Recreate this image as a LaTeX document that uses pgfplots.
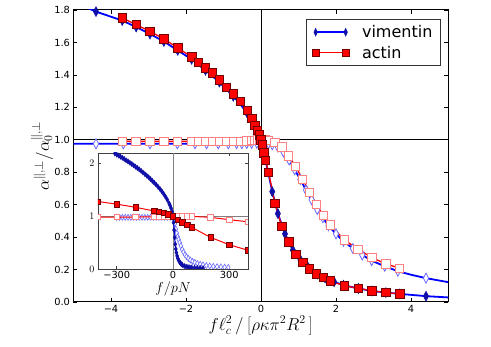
\documentclass[border=0pt]{standalone}
\usepackage[no-math]{fontspec}
\setmainfont{DejaVu Sans}
\usepackage{pgfplots}
\pgfplotsset{compat=1.18}
\definecolor{vimdark}{HTML}{1010A8}
\definecolor{vimlight}{HTML}{6A6AFF}
\definecolor{actlight}{HTML}{FF8080}

\pgfplotsset{
  vimpar/.style={blue, line width=1.8pt, mark=diamond*,
    mark options={fill=vimdark, draw=vimdark, line width=0.5pt, xscale=0.7, solid}, mark size=5pt},
  vimperp/.style={blue, line width=1.8pt, mark=diamond*,
    mark options={fill=white, draw=vimlight, line width=0.8pt, xscale=0.7, solid}, mark size=5pt},
  actpar/.style={red, line width=1.3pt, mark=square*,
    mark options={fill=red, draw=red!45!black, line width=0.6pt, solid}, mark size=4.2pt},
  actperp/.style={red, line width=1.3pt, mark=square*,
    mark options={fill=white, draw=actlight, line width=0.9pt, solid}, mark size=4.2pt},
}

\begin{document}
\begin{tikzpicture}
\path[use as bounding box] (-73.5pt,-45pt) rectangle (417.5pt,302pt);
\begin{axis}[
  at={(0pt,0pt)}, anchor=south west,
  scale only axis, width=375pt, height=292pt,
  xmin=-5, xmax=5, ymin=0, ymax=1.8,
  xtick={-4,-2,0,2,4}, xticklabels={−4,−2,0,2,4},
  ytick={0,0.2,0.4,0.6,0.8,1.0,1.2,1.4,1.6,1.8},
  yticklabels={0.0,0.2,0.4,0.6,0.8,1.0,1.2,1.4,1.6,1.8},
  tick align=inside, major tick length=4pt,
  tick style={black, line width=0.6pt},
  axis line style={line width=1pt},
  ticklabel style={font=\fontsize{9.8}{12}\selectfont},
  label style={font=\fontsize{17}{20}\selectfont},
  xlabel={$f\ell_c^2\,/\left[\rho\kappa\pi^2R^2\,\right]$},
  xlabel style={at={(axis description cs:0.5,-0.08)}, anchor=center},
  ylabel={$\alpha^{\parallel,\perp}/\alpha_0^{\parallel,\perp}$},
  ylabel style={at={(axis description cs:-0.084,0.5)}, anchor=center},
  legend image code/.code={\draw[mark repeat=1,#1] plot coordinates {(0pt,0pt) (30pt,0pt)};},
  legend style={at={(axis description cs:0.9795,0.9692)}, anchor=north east,
    draw=black!80, line width=0.8pt, font=\fontsize{16}{19}\selectfont,
    inner xsep=6pt, inner ysep=4pt, row sep=3pt,
    /tikz/every odd column/.append style={column sep=11pt}},
  legend cell align=left,
]
\addlegendimage{blue, line width=1.5pt, mark=diamond*,
    mark options={fill=vimdark, draw=vimdark, line width=0.4pt, xscale=0.6, solid}, mark size=4pt}
\addlegendentry{vimentin}
\addlegendimage{red, line width=1.2pt, mark=square*,
    mark options={fill=red, draw=red!45!black, line width=0.5pt, solid}, mark size=3.4pt}
\addlegendentry{actin}

% reference lines
\addplot[black, line width=0.9pt, forget plot] coordinates {(0,0) (0,1.8)};
\addplot[black, line width=0.9pt, forget plot] coordinates {(-5,1) (5,1)};

% vimentin, perpendicular
\addplot[vimperp, no marks, forget plot] coordinates {
(-5,0.975) (-4.4,0.975) (-3.67,0.975) (-2.96,0.975) (-2.23,0.975) (-1.76,0.975)
(-1.45,0.975) (-1.14,0.975) (-0.87,0.975) (-0.65,0.976) (-0.51,0.976) (-0.38,0.977)
(-0.25,0.978) (-0.11,0.979) (0,0.98) (0.1,0.979) (0.2,0.976) (0.3,0.97) (0.45,0.955)
(0.6,0.925) (0.75,0.875) (0.9,0.815) (1.05,0.755) (1.2,0.69) (1.35,0.63) (1.5,0.57)
(1.65,0.52) (1.8,0.47) (2.0,0.42) (2.2,0.375) (2.45,0.33) (2.7,0.29) (2.95,0.255)
(3.3,0.22) (3.65,0.19) (4.0,0.168) (4.4,0.147) (5.0,0.122)};
\addplot[vimperp, only marks, forget plot] coordinates {
(-4.4,0.975) (-3.67,0.975) (-2.96,0.975) (-2.23,0.975) (-1.76,0.975)
(-1.45,0.975) (-1.14,0.975) (-0.87,0.975) (-0.65,0.976) (-0.51,0.976) (-0.38,0.977)
(-0.25,0.978) (-0.11,0.979) (0,0.98) (0.1,0.979) (0.2,0.976) (0.3,0.97) (0.45,0.955)
(0.6,0.925) (0.75,0.875) (0.9,0.815) (1.05,0.755) (1.2,0.69) (1.35,0.63) (1.5,0.57)
(1.65,0.52) (1.8,0.47) (2.0,0.42) (2.2,0.375) (2.45,0.33) (2.7,0.29) (2.95,0.255)
(3.3,0.22) (3.65,0.19) (4.4,0.147)};

% vimentin, parallel
\addplot[vimpar, no marks, forget plot] coordinates {
(-5,1.85) (-4.4,1.79) (-3.7,1.735) (-3.33,1.695) (-2.96,1.652) (-2.59,1.606)
(-2.22,1.551) (-1.85,1.496) (-1.48,1.428) (-1.11,1.355) (-0.74,1.268) (-0.555,1.22)
(-0.37,1.165) (-0.25,1.125) (-0.16,1.085) (-0.08,1.045) (0,1.0) (0.05,0.95) (0.1,0.89)
(0.2,0.79) (0.3,0.68) (0.45,0.545) (0.64,0.42) (0.85,0.32) (1.05,0.26) (1.26,0.212)
(1.5,0.172) (1.71,0.147) (1.95,0.124) (2.2,0.104) (2.6,0.083) (2.96,0.068)
(3.33,0.058) (3.7,0.05) (4.4,0.036) (5,0.028)};
\addplot[vimpar, only marks, forget plot] coordinates {
(-4.4,1.79) (-3.7,1.735) (-3.33,1.695) (-2.96,1.652) (-2.59,1.606) (-2.22,1.551)
(-1.85,1.496) (-1.48,1.428) (-1.11,1.355) (-0.74,1.268) (-0.37,1.165) (-0.16,1.085)
(0.1,0.89) (0.3,0.68) (0.45,0.545) (0.64,0.42) (0.85,0.32) (1.05,0.26) (1.26,0.212)
(1.5,0.172) (1.71,0.147) (1.95,0.124) (2.2,0.104) (2.6,0.083) (2.96,0.068)
(3.33,0.058) (3.7,0.05) (4.4,0.036)};

% actin, perpendicular
\addplot[actperp, forget plot] coordinates {
(-3.70,0.99) (-3.33,0.99) (-2.96,0.99) (-2.59,0.99) (-2.22,0.99) (-1.85,0.99)
(-1.665,0.99) (-1.48,0.99) (-1.295,0.99) (-1.11,0.99) (-0.925,0.99) (-0.74,0.99)
(-0.555,0.99) (-0.37,0.992) (-0.25,0.994) (-0.16,0.996) (-0.1,0.998) (-0.04,1.0)
(0,1.0) (0.04,1.0) (0.08,1.0) (0.12,1.0) (0.2,0.997) (0.37,0.985) (0.555,0.955)
(0.74,0.90) (0.925,0.835) (1.11,0.757) (1.295,0.677) (1.48,0.60) (1.665,0.533)
(1.85,0.475) (2.22,0.383) (2.59,0.325) (2.96,0.273) (3.33,0.235) (3.70,0.208)};

% actin, parallel
\addplot[actpar, forget plot] coordinates {
(-3.70,1.751) (-3.33,1.710) (-2.96,1.668) (-2.59,1.622) (-2.22,1.566) (-1.85,1.511)
(-1.665,1.478) (-1.48,1.443) (-1.295,1.412) (-1.11,1.370) (-0.925,1.325) (-0.74,1.284)
(-0.555,1.236) (-0.37,1.181) (-0.25,1.134) (-0.16,1.09) (-0.1,1.057) (-0.04,1.03)
(0,1.0) (0.04,0.97) (0.08,0.92) (0.12,0.875) (0.2,0.80) (0.37,0.61) (0.555,0.465)
(0.74,0.37) (0.925,0.294) (1.11,0.245) (1.295,0.204) (1.48,0.173) (1.665,0.152)
(1.85,0.13) (2.22,0.10) (2.59,0.085) (2.96,0.068) (3.33,0.058) (3.70,0.05)};
\end{axis}

% inset
\begin{axis}[
  at={(24.5pt,33pt)}, anchor=south west,
  scale only axis, width=150pt, height=116pt,
  xmin=-400, xmax=400, ymin=0, ymax=2.2,
  xtick={-300,0,300}, xticklabels={−300,0,300},
  ytick={0,1,2},
  axis background/.style={fill=white},
  axis line style={black!75, line width=0.7pt},
  tick align=inside, major tick length=3pt,
  tick style={black!75, line width=0.5pt},
  ticklabel style={font=\fontsize{9.8}{12}\selectfont},
  xticklabel style={inner ysep=2pt},
  xlabel={$f/pN$},
  label style={font=\fontsize{15}{18}\selectfont},
  xlabel style={at={(axis description cs:0.5,-0.175)}, anchor=center, inner sep=0pt},
  clip marker paths=true,
]
\addplot[gray, line width=0.8pt] coordinates {(0,0) (0,2.2)};
\addplot[gray, line width=0.8pt] coordinates {(-400,1) (400,1)};

% vimentin, perpendicular
\addplot[blue!80, line width=0.6pt, mark=diamond*,
  mark options={fill=white, draw=vimlight, line width=0.6pt, xscale=0.8}, mark size=3pt] coordinates {
(-300,0.98) (-285,0.98) (-270,0.98) (-255,0.98) (-240,0.98) (-225,0.98) (-210,0.98)
(-195,0.98) (-180,0.98) (-165,0.98) (-150,0.98) (-135,0.98) (-120,0.98) (-105,0.98)
(-90,0.98) (-75,0.98) (-60,0.98) (-45,0.98) (-30,0.98) (-15,0.98) (0,0.98)
(5,0.95) (10,0.86) (15,0.76) (20,0.68) (25,0.61) (30,0.56) (36,0.5) (42,0.44)
(49,0.37) (56,0.32) (64,0.27) (72,0.235) (82,0.2) (92,0.17) (104,0.145) (116,0.125)
(130,0.105) (145,0.09) (160,0.078) (178,0.067) (196,0.058) (215,0.05) (235,0.044)
(255,0.039) (275,0.035) (295,0.031)};

% vimentin, parallel
\addplot[blue, line width=1pt, mark=diamond*,
  mark options={fill=vimdark, draw=vimdark, line width=0.4pt, xscale=0.8}, mark size=2.6pt] coordinates {
(-310,2.19) (-300,2.17) (-290,2.15) (-280,2.13) (-270,2.11) (-260,2.085) (-250,2.06)
(-240,2.04) (-230,2.015) (-220,1.99) (-210,1.965) (-200,1.94) (-190,1.915) (-180,1.89)
(-170,1.86) (-160,1.83) (-150,1.80) (-140,1.77) (-130,1.74) (-120,1.705) (-110,1.67)
(-100,1.635) (-90,1.60) (-80,1.56) (-70,1.52) (-60,1.475) (-50,1.425) (-40,1.37)
(-30,1.31) (-20,1.24) (-15,1.20) (-10,1.15) (-5,1.085) (0,1.0) (3,0.88) (6,0.74)
(9,0.60) (12,0.47) (15,0.38) (18,0.31) (22,0.25) (26,0.20) (30,0.165) (35,0.135)
(40,0.11) (45,0.09) (50,0.077) (60,0.058) (70,0.046) (80,0.038) (90,0.032)
(100,0.028) (115,0.024) (130,0.021) (145,0.019) (160,0.017)};

% actin, perpendicular
\addplot[red, line width=1pt, mark=square*,
  mark options={fill=white, draw=actlight, line width=0.7pt}, mark size=2.7pt] coordinates {
(-400,0.985) (-300,0.985) (-200,0.985) (-100,0.99) (-75,0.995) (-50,0.997) (-25,1.0)
(0,1.0) (25,1.0) (50,1.0) (75,1.0) (100,0.998) (200,0.98) (300,0.935) (400,0.895)};

% actin, parallel
\addplot[red, line width=1pt, mark=square*,
  mark options={fill=red, draw=red!45!black, line width=0.5pt}, mark size=2.7pt] coordinates {
(-400,1.28) (-300,1.23) (-200,1.17) (-100,1.10) (-75,1.085) (-50,1.065) (-25,1.04)
(0,1.0) (25,0.93) (50,0.89) (75,0.84) (100,0.79) (200,0.60) (300,0.46) (400,0.355)};
\end{axis}
\end{tikzpicture}
\end{document}
